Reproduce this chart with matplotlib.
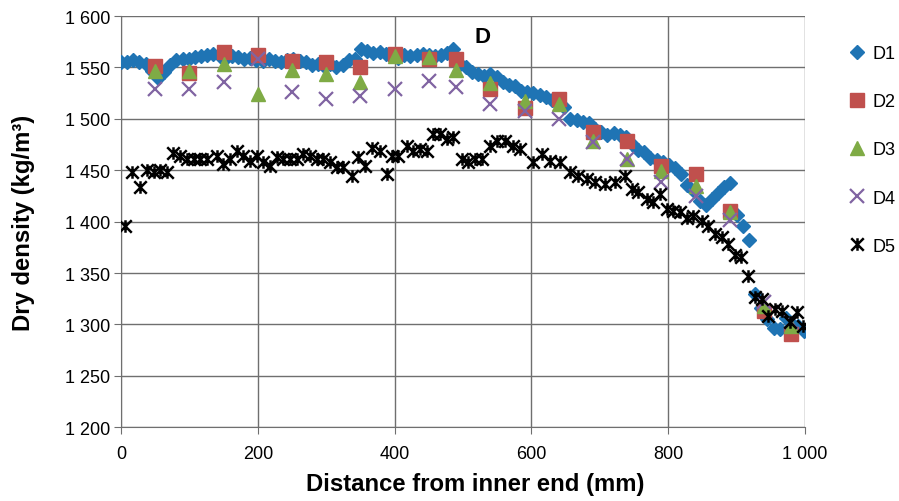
import matplotlib
matplotlib.use("Agg")
import matplotlib.pyplot as plt
from matplotlib.path import Path
from matplotlib.ticker import FuncFormatter, MultipleLocator

plt.rcParams['font.family'] = ['Liberation Sans', 'DejaVu Sans']

# D1: dense profile
d1_x = [0, 9, 18, 27, 36, 45, 54, 63, 72, 81, 90, 99, 108, 117, 126, 135, 144, 153, 162, 171,
        180, 189, 198, 207, 216, 225, 234, 243, 252, 261, 270, 279, 288, 297, 306, 315, 324, 333,
        342, 351, 360, 369, 378, 387, 396, 405, 414, 423, 432, 441, 450, 459, 468, 477, 486, 495,
        504, 513, 522, 531, 540, 549, 558, 567, 576, 585, 594, 603, 612, 621, 630, 639, 648, 657,
        666, 675, 684, 693, 702, 711, 720, 729, 738, 747, 756, 765, 774, 783, 792, 801, 810, 819,
        828, 837, 846, 855, 864, 873, 882, 891, 900, 909, 918, 927, 936, 945, 954, 963, 972, 981,
        990, 999]
d1_y = [1555, 1555, 1557, 1555, 1553, 1547, 1540, 1546, 1552, 1557, 1558, 1558, 1560, 1561, 1562,
        1563, 1561, 1559, 1561, 1560, 1558, 1559, 1557, 1556, 1558, 1556, 1555, 1557, 1558, 1556,
        1555, 1552, 1553, 1551, 1553, 1550, 1552, 1557, 1558, 1568, 1566, 1564, 1565, 1563, 1561,
        1559, 1562, 1561, 1562, 1563, 1562, 1561, 1562, 1564, 1568, 1553, 1550, 1546, 1544, 1542,
        1544, 1541, 1536, 1533, 1532, 1527, 1526, 1525, 1523, 1521, 1518, 1514, 1512, 1500, 1499,
        1497, 1496, 1490, 1487, 1484, 1486, 1484, 1482, 1476, 1470, 1468, 1462, 1460, 1458, 1455,
        1452, 1446, 1436, 1430, 1420, 1416, 1422, 1428, 1434, 1438, 1406, 1396, 1382, 1330, 1316,
        1305, 1297, 1296, 1306, 1300, 1298, 1294]

# D2-D4: coarse profiles
coarse_x = [50, 100, 150, 200, 250, 300, 350, 400, 450, 490, 540, 590, 640, 690, 740, 790,
            840, 890, 940, 980]
d2_y = [1551, 1545, 1565, 1562, 1556, 1555, 1550, 1563, 1558, 1558, 1529, 1511, 1519, 1487,
        1478, 1454, 1446, 1410, 1313, 1291]
d3_y = [1547, 1547, 1553, 1524, 1548, 1544, 1536, 1561, 1560, 1548, 1535, 1517, 1514, 1478,
        1461, 1449, 1435, 1409, 1318, 1298]
d4_y = [1529, 1529, 1536, 1558, 1526, 1519, 1522, 1529, 1537, 1531, 1514, 1508, 1500, 1477,
        1461, 1439, 1425, 1402, 1322, 1302]

# D5: dense profile
d5_x = [6, 16, 28, 38, 48, 57, 67, 76, 86, 96, 106, 116, 125, 140, 149, 159, 169, 178, 188, 199,
        208, 218, 228, 237, 247, 257, 266, 276, 286, 295, 306, 316, 325, 337, 347, 357, 367, 379,
        389, 396, 405, 418, 427, 437, 447, 456, 466, 476, 485, 498, 507, 518, 528, 540, 549, 561,
        573, 583, 603, 615, 627, 642, 656, 668, 681, 693, 708, 722, 737, 747, 756, 769, 778, 788,
        798, 807, 817, 827, 836, 849, 858, 868, 878, 887, 898, 907, 917, 927, 937, 946, 956, 966,
        978, 988, 997]
d5_y = [1396, 1448, 1434, 1450, 1448, 1450, 1448, 1467, 1464, 1461, 1461, 1461, 1461, 1464, 1456,
        1461, 1469, 1464, 1459, 1464, 1458, 1454, 1463, 1461, 1461, 1461, 1466, 1464, 1461, 1461,
        1458, 1453, 1453, 1444, 1463, 1454, 1472, 1469, 1446, 1464, 1464, 1474, 1469, 1471, 1469,
        1485, 1485, 1480, 1482, 1461, 1458, 1461, 1461, 1474, 1478, 1478, 1474, 1471, 1458, 1466,
        1459, 1458, 1448, 1444, 1441, 1439, 1437, 1439, 1444, 1432, 1429, 1422, 1419, 1427, 1412,
        1410, 1409, 1404, 1405, 1401, 1396, 1388, 1385, 1378, 1368, 1366, 1347, 1327, 1325, 1308,
        1315, 1313, 1302, 1312, 1298]

y_ticks = [1200, 1250, 1300, 1350, 1400, 1450, 1500, 1550, 1600]
x_ticks = [0, 200, 400, 600, 800, 1000]

# Star marker: an X crossed by a vertical bar
star = Path([(-1, -1), (1, 1), (-1, 1), (1, -1), (0, -1), (0, 1)],
            [Path.MOVETO, Path.LINETO, Path.MOVETO, Path.LINETO, Path.MOVETO, Path.LINETO])

fig = plt.figure(figsize=(8.99, 5.02), dpi=100)
ax = fig.add_axes([0.1346, 0.147, 0.7609, 0.819])

ax.plot(d1_x, d1_y, ls='none', marker='D', ms=7.3, color='#1f74b4', mec='#1f74b4', label='D1', zorder=3)
ax.plot(coarse_x, d2_y, ls='none', marker='s', ms=10, color='#c0504d', label='D2', zorder=4)
ax.plot(coarse_x, d3_y, ls='none', marker='^', ms=10, color='#7fab45', label='D3', zorder=5)
ax.plot(coarse_x, d4_y, ls='none', marker='x', ms=10, mew=1.6, color='#8064a2', label='D4', zorder=6)
ax.plot(d5_x, d5_y, ls='none', marker=star, ms=9, mew=1.8, color='black', mfc='none', label='D5', zorder=7)

ax.set_xlim(0, 1000)
ax.set_ylim(1200, 1600)
ax.set_xticks(x_ticks)
ax.set_yticks(y_ticks)
ax.xaxis.set_minor_locator(MultipleLocator(100))

fmt = FuncFormatter(lambda v, p: f"{v:,.0f}".replace(',', ' '))
ax.xaxis.set_major_formatter(fmt)
ax.yaxis.set_major_formatter(fmt)

ax.grid(True, which='major', color='#6f6f6f', lw=1)
ax.set_axisbelow(True)
for s in ('top', 'right'):
    ax.spines[s].set_visible(False)
for s in ('left', 'bottom'):
    ax.spines[s].set_color('#6f6f6f')
ax.tick_params(axis='both', which='major', labelsize=13, length=5, color='#6f6f6f')
ax.tick_params(axis='x', which='major', pad=8)
ax.tick_params(axis='y', which='major', pad=3)
ax.tick_params(axis='x', which='minor', length=0)

ax.set_xlabel('Distance from inner end (mm)', fontsize=17.2, fontweight='bold')
ax.set_ylabel('Dry density (kg/m³)', fontsize=17.2, fontweight='bold', labelpad=21)
ax.xaxis.set_label_coords(0.5175, -0.108)
ax.xaxis.label.set_va('top')

ax.text(528, 1580, 'D', fontsize=16, fontweight='bold', ha='center', va='center')

fig.legend(loc='upper left', bbox_to_anchor=(0.935, 0.922), frameon=False, fontsize=13,
           labelspacing=1.72, handlelength=1.0, handletextpad=0.35, borderaxespad=0)

fig.savefig('out.png', dpi=100)
